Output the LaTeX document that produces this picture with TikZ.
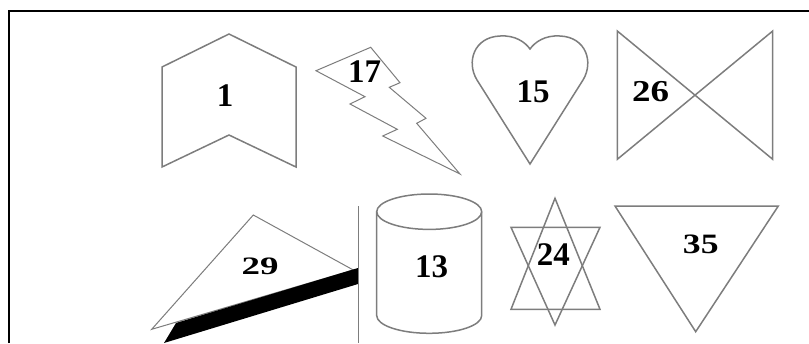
\documentclass[tikz,border=0pt]{standalone}
\usepackage{fontspec}
\setmainfont{Liberation Serif}
\usepackage{tikz}
\definecolor{edgegray}{RGB}{125,125,125}
\tikzset{
  frame line/.style={
    draw=black,
    line width=2pt
  },
  outline/.style={
    draw=edgegray,
    line width=1.5pt,
    line join=miter
  },
  thin outline/.style={
    outline,
    line width=1pt
  },
  num/.style={
    inner sep=0pt,
    text=black,
    font=\fontsize{33}{33}\selectfont\bfseries
  }
}

\begin{document}
\begin{tikzpicture}[x=1pt, y=-1pt]
  \useasboundingbox (0,0) rectangle (809,343);

  % Frame
  \draw[frame line] (9,343) -- (9,11) -- (809,11);

  % Chevron
  \draw[outline] (229,34) -- (296,67) -- (296,167) -- (229,135) -- (162,167) -- (162,67) -- cycle;
  \node[num] (n1) at (225,96) {1};

  % Lightning
  \draw[thin outline] (316,70.7) -- (370.7,47.3) -- (400,82.7) -- (389.3,87.3) -- (426,118.3)
    -- (416.7,123.3) -- (460,174) -- (382.7,136) -- (397.3,129.3) -- (350,104)
    -- (365,96.7) -- cycle;
  \node[num] (n17) at (364.5,72) {17};

  % Heart
  \draw[outline] (530,164) -- (477,80) .. controls (466,62) and (474,37) .. (500,36)
    .. controls (515,35) and (525,42) .. (530,49)
    .. controls (535,42) and (545,35) .. (560,36)
    .. controls (586,37) and (594,62) .. (583,80) -- cycle;
  \node[num] (n15) at (533,91.7) {15};

  % Bow tie
  \draw[outline] (617.3,31) -- (772.7,159.3) -- (772.7,31) -- (617.3,159.3) -- cycle;
  \node[num] (n26) at (650.5,91.7) {\scalebox{1.12}[0.92]{26}};

  % Triangle with black bar
  \draw[thin outline] (253.3,215) -- (353.3,270) -- (151.7,329.3) -- cycle;
  \fill[black] (176,323) -- (358,268) -- (358,284) -- (164,343) -- cycle;
  \node[num] (n29) at (260,266.7) {\scalebox{1.12}[0.76]{29}};
  \draw[edgegray, line width=1pt] (358.3,206) -- (358.3,343);

  % Cylinder
  \draw[outline] (429.2,211.7) ellipse [x radius=52.5, y radius=17.7];
  \draw[outline] (376.7,211.7) -- (376.7,315.6)
    arc[start angle=180, end angle=0, x radius=52.5, y radius=17.7] -- (481.7,211.7);
  \node[num] (n13) at (431.7,266.7) {13};

  % Star
  \draw[outline] (555,198.3) -- (600,309.3) -- (511,309.3) -- cycle;
  \draw[outline] (511,227.3) -- (600,227.3) -- (555,325) -- cycle;
  \node[num] (n24) at (553.3,254.2) {24};

  % Down triangle
  \draw[outline] (615,206) -- (778.3,206) -- (695.7,331.7) -- cycle;
  \node[num] (n35) at (700.8,244.2) {\scalebox{1.08}[0.85]{35}};

\end{tikzpicture}
\end{document}
